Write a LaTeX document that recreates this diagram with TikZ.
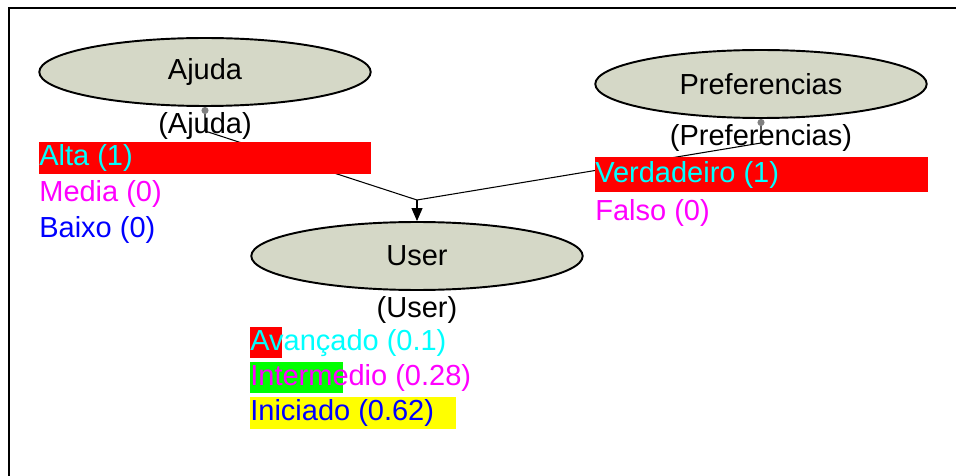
\documentclass[tikz,border=0pt]{standalone}
\usepackage{fontspec}
\setmainfont{Liberation Sans}
\definecolor{bnfill}{RGB}{213,216,199}
\definecolor{bnred}{RGB}{255,0,0}
\definecolor{bngreen}{RGB}{0,255,0}
\definecolor{bnyellow}{RGB}{255,255,0}
\definecolor{bncyan}{RGB}{0,255,255}
\definecolor{bnmagenta}{RGB}{255,0,255}
\definecolor{bnblue}{RGB}{0,0,255}
\usetikzlibrary{arrows.meta,positioning,shapes.geometric}

\begin{document}
\begin{tikzpicture}[
    x=0.02cm, y=-0.02cm,
    var/.style={ellipse, draw=black, line width=1.1pt, fill=bnfill, minimum width=6.63cm,
      minimum height=1.36cm, font=\fontsize{16.5}{18}\selectfont},
    lbl/.style={font=\fontsize{16.5}{18}\selectfont, inner sep=0pt},
    state/.style={lbl, anchor=west},
    bar/.style={rectangle, inner sep=0pt, anchor=west, minimum height=0.64cm},
    link/.style={draw=black, line width=0.6pt}
  ]
    \useasboundingbox (0,0) rectangle (956,476);

    % Frame
    \draw[line width=1.1pt] (9,476) -- (9,8) -- (956,8);

    % Variables
    \node[var] (ajuda) at (205,72)  {Ajuda};
    \node[var] (pref)  at (761,84)  {Preferencias};
    \node[var] (user)  at (417,256) {User};

    % Variable names
    \node[lbl] (ajudalbl) at (205,126) {(Ajuda)};
    \node[lbl] (preflbl)  at (761,138) {(Preferencias)};
    \node[lbl] (userlbl)  at (417,310) {(User)};

    % Links
    \coordinate (ajudak) at (205,131);
    \coordinate (prefk)  at (761,143);
    \coordinate (join)   at (417,200);
    \draw[link, {Circle[length=4pt, gray]}-] (ajuda.south) -- (ajudak) -- (join);
    \draw[link, {Circle[length=4pt, gray]}-] (pref.south) -- (prefk) -- (join);
    \draw[link, -{Triangle[length=0.26cm, width=0.22cm]}] (join) -- (user.north);

    % Ajuda states
    \node[bar, fill=bnred, minimum width=6.64cm] (altabar) at (39,158) {};
    \node[state, text=bncyan]    (alta)  at (39,158) {Alta (1)};
    \node[state, text=bnmagenta] (media) at (39,194) {Media (0)};
    \node[state, text=bnblue]    (baixo) at (39,230) {Baixo (0)};

    % Preferencias states
    \node[bar, fill=bnred, minimum width=6.66cm, minimum height=0.7cm] (verdbar) at (595,174.5) {};
    \node[state, text=bncyan]    (verd)  at (595,175) {Verdadeiro (1)};
    \node[state, text=bnmagenta] (falso) at (595,213) {Falso (0)};

    % User states
    \node[bar, fill=bnred,    minimum width=0.64cm] (avbar)  at (250,342.5) {};
    \node[bar, fill=bngreen,  minimum width=1.86cm] (intbar) at (250,377.5) {};
    \node[bar, fill=bnyellow, minimum width=4.12cm] (inibar) at (250,412.5) {};
    \node[state, text=bncyan]    (av)  at (250,343) {Avançado (0.1)};
    \node[state, text=bnmagenta] (int) at (250,378) {Intermedio (0.28)};
    \node[state, text=bnblue]    (ini) at (250,413) {Iniciado (0.62)};
\end{tikzpicture}
\end{document}
